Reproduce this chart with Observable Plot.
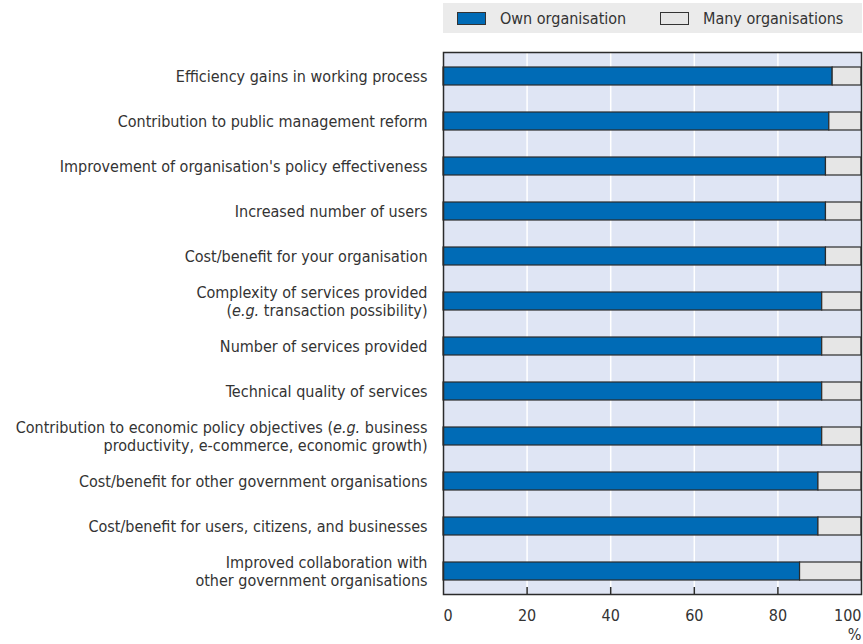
<!DOCTYPE html>
<html><head><meta charset="utf-8">
<script src="https://cdn.jsdelivr.net/npm/d3@7"></script>
<script src="https://cdn.jsdelivr.net/npm/@observablehq/plot@0.6"></script>
<style>
body{margin:0;background:#fff;font-family:"Liberation Sans Narrow","Arial Narrow","DejaVu Sans Condensed",sans-serif;color:#333;}
#wrap{position:relative;width:863px;height:644px;}
#legend{position:absolute;left:443px;top:3px;width:419px;height:30px;background:#ebebeb;font-size:16px;}
.item{position:absolute;top:0;height:30px;display:flex;align-items:center;}
.sw{width:27px;height:11px;border:1px solid #333;margin-right:14px;}
#chart{position:absolute;left:0;top:36px;}
</style></head><body>
<div id="wrap">
<div id="legend"></div>
<div id="chart"></div>
</div>
<script>
const categories = [
"Efficiency gains in working process",
"Contribution to public management reform",
"Improvement of organisation's policy effectiveness",
"Increased number of users",
"Cost/benefit for your organisation",
"Complexity of services provided\n(e.g. transaction possibility)",
"Number of services provided",
"Technical quality of services",
"Contribution to economic policy objectives (e.g. business\nproductivity, e-commerce, economic growth)",
"Cost/benefit for other government organisations",
"Cost/benefit for users, citizens, and businesses",
"Improved collaboration with\nother government organisations"];
const seriesNames = ["Own organisation", "Many organisations"];
const ownValues  = [93.1, 92.3, 91.5, 91.5, 91.5, 90.6, 90.6, 90.6, 90.6, 89.7, 89.7, 85.3];
const manyValues = [6.9, 7.7, 8.5, 8.5, 8.5, 9.4, 9.4, 9.4, 9.4, 10.3, 10.3, 14.7];
const xTicks = [0, 20, 40, 60, 80, 100];
const unitLabel = ["%"];
const colors = ["#006bb6", "#e6e6e6"];

const data = [];
categories.forEach((c, i) => {
  data.push({category: c, series: seriesNames[0], value: ownValues[i]});
  data.push({category: c, series: seriesNames[1], value: manyValues[i]});
});

const legend = document.getElementById("legend");
const legendX = [14, 217];
seriesNames.forEach((s, i) => {
  const it = document.createElement("div");
  it.className = "item";
  it.style.left = legendX[i] + "px";
  const sw = document.createElement("span");
  sw.className = "sw"; sw.style.background = colors[i];
  const t = document.createElement("span"); t.textContent = s;
  it.appendChild(sw); it.appendChild(t);
  legend.appendChild(it);
});

const font = "16px";
const plot = Plot.plot({
  width: 863, height: 608,
  marginTop: 16, marginBottom: 50, marginLeft: 443, marginRight: 2,
  style: {fontFamily: '"Liberation Sans Narrow","Arial Narrow","DejaVu Sans Condensed",sans-serif', fontSize: font, color: "#333", background: "transparent"},
  x: {domain: [0, 100]},
  y: {domain: categories, paddingInner: 0.6, paddingOuter: 0.3},
  color: {domain: seriesNames, range: colors},
  marks: [
    Plot.frame({fill: "#dfe5f4"}),
    Plot.gridX({ticks: xTicks.slice(1, -1), stroke: "#fff", strokeOpacity: 1, strokeWidth: 1.5}),
    Plot.barX(data, Plot.stackX({x: "value", y: "category", fill: "series", order: seriesNames, stroke: "#2b2b2b", strokeWidth: 1.2})),
    Plot.frame({stroke: "#2b2b2b", strokeWidth: 1.5}),
    Plot.axisY({tickSize: 0, tickPadding: 16, lineHeight: 1.08, fontSize: font, label: null}),
    Plot.axisX({ticks: xTicks.slice(1, -1), tickSize: 7, dy: -7, tickFormat: () => "", label: null, stroke: "#2b2b2b", strokeWidth: 1.5}),
    Plot.axisX({ticks: xTicks.slice(0, 1), tickSize: 0, tickPadding: 15, textAnchor: "start", fontSize: font, label: null}),
    Plot.axisX({ticks: xTicks.slice(1, -1), tickSize: 0, tickPadding: 15, fontSize: font, label: null}),
    Plot.axisX({ticks: xTicks.slice(-1), tickSize: 0, tickPadding: 15, textAnchor: "end", fontSize: font, label: null}),
    Plot.text(unitLabel, {text: d => d, frameAnchor: "bottom-right", textAnchor: "end", lineAnchor: "middle", dy: 40, fontSize: font, fill: "#333"})
  ]
});
document.getElementById("chart").appendChild(plot);

// italicise "e.g." in labels
plot.querySelectorAll("text, tspan").forEach(node => {
  Array.from(node.childNodes).forEach(ch => {
    if (ch.nodeType === 3 && ch.nodeValue.includes("e.g.")) {
      const parts = ch.nodeValue.split("e.g.");
      const frag = document.createDocumentFragment();
      parts.forEach((p, k) => {
        if (k > 0) {
          const ts = document.createElementNS("http://www.w3.org/2000/svg", "tspan");
          ts.setAttribute("font-style", "italic");
          ts.textContent = "e.g.";
          frag.appendChild(ts);
        }
        frag.appendChild(document.createTextNode(p));
      });
      node.replaceChild(frag, ch);
    }
  });
});
</script>
</body></html>
